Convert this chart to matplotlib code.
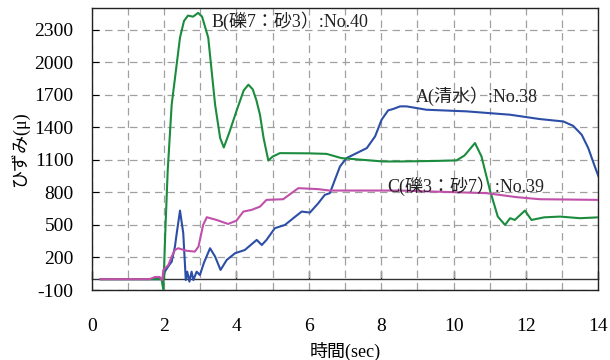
import matplotlib
matplotlib.use("Agg")
import matplotlib.pyplot as plt
from matplotlib.ticker import MultipleLocator

plt.rcParams["axes.unicode_minus"] = False

# ---- data ----
time_A = [0.25, 1.9, 1.98, 2.02, 2.12, 2.21, 2.3, 2.35, 2.44, 2.53, 2.6, 2.64, 2.7, 2.76,
          2.81, 2.9, 2.99, 3.1, 3.27, 3.41, 3.56, 3.73, 3.96, 4.23, 4.56, 4.7, 4.83, 5.06,
          5.34, 5.57, 5.8, 6.03, 6.26, 6.44, 6.58, 6.72, 6.86, 7.04, 7.32, 7.6, 7.83, 8.01,
          8.19, 8.33, 8.52, 8.7, 9.25, 10.36, 11.56, 12.38, 13.03, 13.3, 13.54, 13.72, 13.9, 14.0]
strain_A = [0, 0, 10, 69, 120, 161, 300, 424, 632, 424, -8, 69, -23, 69,
            -8, 69, 38, 150, 285, 208, 85, 177, 239, 269, 362, 315, 362, 470,
            500, 562, 623, 614, 700, 777, 793, 916, 1039, 1116, 1162, 1208, 1316, 1470,
            1556, 1569, 1593, 1593, 1562, 1547, 1516, 1476, 1454, 1414, 1331, 1208, 1039, 950]

time_B = [0.25, 1.93, 1.98, 2.03, 2.1, 2.21, 2.44, 2.55, 2.66, 2.8, 2.94, 3.05, 3.22, 3.41,
          3.55, 3.65, 3.8, 4.0, 4.2, 4.33, 4.45, 4.55, 4.65, 4.75, 4.88, 5.0, 5.2, 6.0, 6.49,
          6.9, 8.05, 8.52, 9.5, 10.08, 10.3, 10.59, 10.77, 11.0, 11.22, 11.42, 11.56, 11.69,
          11.97, 12.15, 12.5, 12.94, 13.49, 14.0]
strain_B = [0, 0, -100, 400, 1000, 1608, 2227, 2380, 2430, 2420, 2455, 2420, 2227, 1608,
            1300, 1214, 1350, 1550, 1740, 1793, 1750, 1650, 1516, 1300, 1094, 1130, 1162, 1160, 1155,
            1116, 1085, 1085, 1090, 1095, 1140, 1255, 1131, 823, 577, 500, 562, 546,
            632, 546, 570, 577, 562, 570]

time_C = [0.25, 1.6, 1.75, 1.88, 1.95, 1.98, 2.12, 2.21, 2.3, 2.39, 2.62, 2.85, 2.95, 3.08,
          3.18, 3.45, 3.77, 4.0, 4.19, 4.42, 4.65, 4.83, 5.29, 5.52, 5.71, 6.26, 6.58, 8.52,
          10.91, 11.74, 12.38, 14.0]
strain_C = [0, 0, 20, 20, -10, 85, 131, 208, 269, 285, 262, 254, 300, 500,
            571, 546, 509, 540, 623, 639, 669, 731, 737, 793, 839, 830, 817, 817,
            793, 756, 737, 731]

labels = ["A(清水）:No.38", "B(礫7：砂3）:No.40", "C(礫3：砂7）:No.39"]
label_pos = [(8.96, 1685), (3.31, 2375), (8.17, 860)]
x_ticks = [0, 2, 4, 6, 8, 10, 12, 14]
y_ticks = [-100, 200, 500, 800, 1100, 1400, 1700, 2000, 2300]

colors = ["#2c4ea6", "#1b8c3e", "#c050a9"]

serif = ["Liberation Serif", "Noto Sans CJK JP", "DejaVu Sans"]

fig = plt.figure(figsize=(6.1, 3.6), dpi=100)
ax = fig.add_axes([0.1503, 0.1944, 0.8307, 0.7834])

ax.plot(time_A, strain_A, color=colors[0], lw=1.5, zorder=3)
ax.plot(time_B, strain_B, color=colors[1], lw=1.5, zorder=3)
ax.plot(time_C, strain_C, color=colors[2], lw=1.5, zorder=3)

ax.set_xlim(0, 14)
ax.set_ylim(-100, 2500)
ax.set_xticks(x_ticks)
ax.xaxis.set_minor_locator(MultipleLocator(1))
ax.set_yticks(y_ticks)
ax.grid(which="both", linestyle=(0, (6, 4)), color="#a0a0a0", lw=0.9)
ax.set_axisbelow(True)

ax.tick_params(axis="x", which="both", length=0, pad=20, labelsize=14)
ax.tick_params(axis="y", direction="in", length=5, pad=13, labelsize=14)
for lab in ax.get_xticklabels() + ax.get_yticklabels():
    lab.set_family(serif)
for s in ax.spines.values():
    s.set_linewidth(1.0)
    s.set_color("#222222")

# zero line with ticks
sec = ax.secondary_xaxis(100 / 2600)
sec.set_xticks(x_ticks)
sec.tick_params(direction="in", length=6, width=1, labelbottom=False, labeltop=False, color="#333333")
sec.spines["bottom"].set_linewidth(1.0)
sec.spines["bottom"].set_color("#333333")

for text, (tx, ty) in zip(labels, label_pos):
    ax.text(tx, ty, text, fontsize=13, family=serif, va="center", ha="left", color="#222222", zorder=4)

ax.set_xlabel("時間(sec)", fontsize=13, family=serif, labelpad=5)
ax.set_ylabel("ひずみ(μ)", fontsize=13, family=serif, labelpad=4)

fig.savefig("out.png", dpi=100)
